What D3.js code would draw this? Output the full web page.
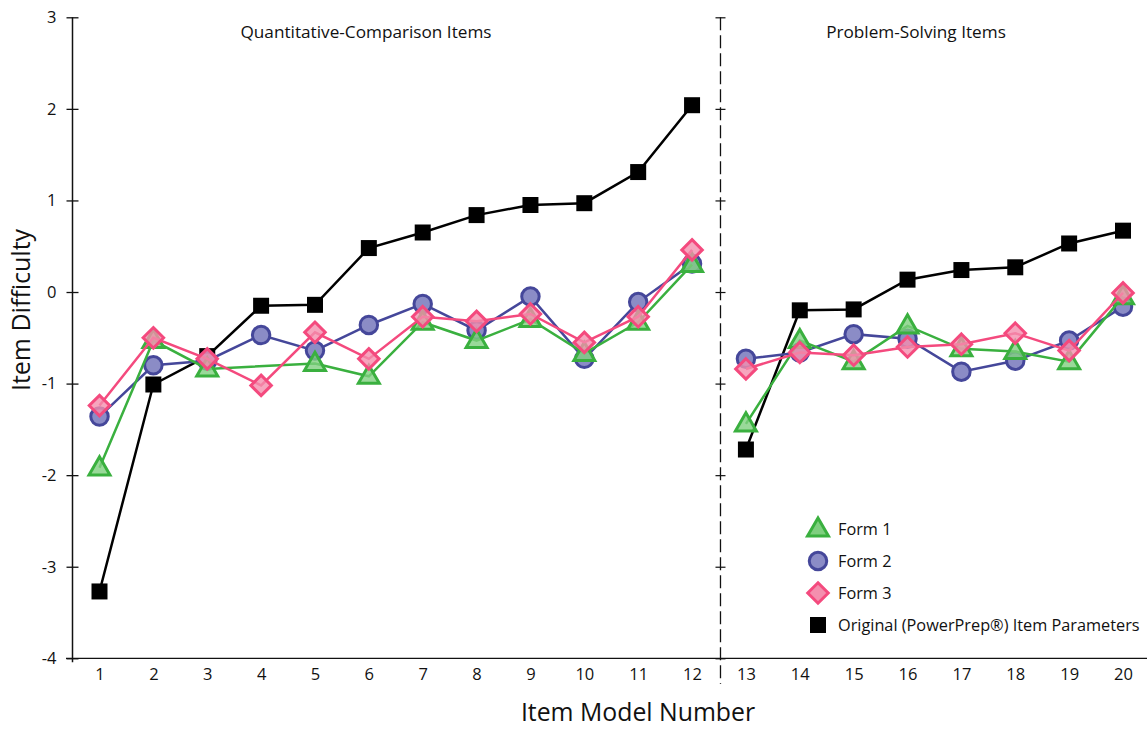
<!DOCTYPE html>
<html><head><meta charset="utf-8">
<script src="https://cdn.jsdelivr.net/npm/d3@7/dist/d3.min.js"></script>
<style>
body{margin:0;background:#fff;}
text{font-family:"Open Sans","Noto Sans",sans-serif;fill:#111;}
</style></head>
<body><svg id="c" width="1147" height="729"></svg>
<script>
const items = d3.range(1, 21);
const yTicks = [-4, -3, -2, -1, 0, 1, 2, 3];
const panelTitles = ["Quantitative-Comparison Items", "Problem-Solving Items"];
const form1 = [-1.92,-0.53,-0.84,null,-0.78,-0.92,-0.33,-0.53,-0.30,-0.67,-0.33,0.30,-1.44,-0.53,-0.76,-0.37,-0.62,-0.65,-0.76,-0.05];
const form2 = [-1.36,-0.80,-0.75,-0.47,-0.64,-0.36,-0.13,-0.42,-0.05,-0.73,-0.11,0.31,-0.73,-0.66,-0.46,-0.51,-0.87,-0.75,-0.53,-0.16];
const form3 = [-1.24,-0.50,-0.73,-1.02,-0.44,-0.73,-0.27,-0.32,-0.24,-0.55,-0.27,0.46,-0.84,-0.66,-0.69,-0.60,-0.57,-0.45,-0.64,-0.01];
const original = [-3.27,-1.01,-0.70,-0.15,-0.14,0.48,0.65,0.84,0.95,0.97,1.31,2.04,-1.72,-0.20,-0.19,0.135,0.24,0.27,0.53,0.67];
const legendLabels = ["Form 1","Form 2","Form 3","Original (PowerPrep\u00AE) Item Parameters"];

const svg = d3.select("#c");
const x = d3.scaleLinear().domain([1, 20]).range([99.5, 1123]);
const y = d3.scaleLinear().domain([-4, 3]).range([658.3, 17.3]);
const xAxisLeft = 72.5;
const divX = x(12.5) + 1.5;

// x axis line
svg.append("line").attr("x1", 66).attr("x2", 1147).attr("y1", y(-4)).attr("y2", y(-4))
  .attr("stroke", "#111").attr("stroke-width", 1.3);

// left y axis
const ga = svg.append("g").attr("transform", `translate(${xAxisLeft},0)`)
  .call(d3.axisLeft(y).tickValues(yTicks).tickSize(6).tickSizeOuter(0).tickFormat(d3.format("d")));
ga.select(".domain").remove();
ga.append("line").attr("y1", y(3)).attr("y2", y(-4) + 4).attr("stroke", "#111").attr("stroke-width", 1.5);
ga.selectAll(".tick line").attr("x1", -6).attr("x2", 6).attr("stroke", "#111").attr("stroke-width", 1.3);
ga.selectAll(".tick text").attr("x", -16).attr("font-size", 16.5).attr("font-family", "Open Sans").attr("fill", "#111")
  .text(d => d < 0 ? "-" + Math.abs(d) : d);

// divider dashed axis
const gd = svg.append("g").attr("transform", `translate(${divX},0)`)
  .call(d3.axisLeft(y).tickValues(yTicks).tickSize(6).tickSizeOuter(0).tickFormat(""));
gd.select(".domain").remove();
gd.append("line").attr("y1", y(3)).attr("y2", 684).attr("stroke", "#111").attr("stroke-width", 1.3)
  .attr("stroke-dasharray", "13,5");
gd.selectAll(".tick line").attr("x1", -5).attr("x2", 5).attr("stroke", "#111").attr("stroke-width", 1.2);

// x tick labels
const gx = svg.append("g").attr("transform", `translate(0,${y(-4)})`)
  .call(d3.axisBottom(x).tickValues(items).tickSize(0).tickPadding(10).tickFormat(d3.format("d")));
gx.select(".domain").remove();
gx.selectAll(".tick text").attr("font-size", 16.5).attr("font-family", "Open Sans").attr("fill", "#111");

// titles
svg.append("text").attr("x", 366).attr("y", 38).attr("text-anchor", "middle").attr("font-size", 17.2).text(panelTitles[0]);
svg.append("text").attr("x", 916).attr("y", 38).attr("text-anchor", "middle").attr("font-size", 17.2).text(panelTitles[1]);
svg.append("text").attr("transform", `translate(30,310) rotate(-90)`).attr("text-anchor", "middle")
  .attr("font-size", 25).text("Item Difficulty");
svg.append("text").attr("x", 638).attr("y", 721).attr("text-anchor", "middle").attr("font-size", 24.8).text("Item Model Number");

const diamond = {draw(ctx, size) { const h = Math.sqrt(size / 2); ctx.moveTo(0, -h); ctx.lineTo(h, 0); ctx.lineTo(0, h); ctx.lineTo(-h, 0); ctx.closePath(); }};
const series = [
  {vals: original, stroke: "#000", fill: "#000", fo: 1, sym: d3.symbolSquare, size: 256, sw: 0, lw: 2.5},
  {vals: form2, stroke: "#45479a", fill: "#8b8cc6", fo: 1, sym: d3.symbolCircle, size: 240, sw: 3, lw: 2.5},
  {vals: form1, stroke: "#3ab03f", fill: "#7fcf7f", fo: 0.8, sym: d3.symbolTriangle, size: 190, sw: 3, lw: 2.5},
  {vals: form3, stroke: "#f44a7e", fill: "#f48fae", fo: 0.8, sym: diamond, size: 210, sw: 3, lw: 2.5}
];
const line = d3.line().x(d => x(d.i)).y(d => y(d.v));
series.forEach(s => {
  const pts = s.vals.map((v, k) => ({i: items[k], v})).filter(d => d.v !== null);
  const segs = [pts.filter(d => d.i <= 12), pts.filter(d => d.i >= 13)];
  segs.forEach(seg => svg.append("path").attr("d", line(seg)).attr("fill", "none")
    .attr("stroke", s.stroke).attr("stroke-width", s.lw));
  svg.append("g").selectAll("path").data(pts).join("path")
    .attr("transform", d => `translate(${x(d.i)},${y(d.v) + (s.sym === d3.symbolTriangle ? 1 : 0)})`)
    .attr("d", d3.symbol(s.sym, s.size))
    .attr("fill", s.fill).attr("fill-opacity", s.fo)
    .attr("stroke", s.sw ? s.stroke : "none").attr("stroke-width", s.sw);
});

// legend
const legSyms = [
  {sym: d3.symbolTriangle, stroke: "#3ab03f", fill: "#7fcf7f", size: 190, sw: 3},
  {sym: d3.symbolCircle, stroke: "#45479a", fill: "#8b8cc6", size: 240, sw: 3},
  {sym: diamond, stroke: "#f44a7e", fill: "#f48fae", size: 210, sw: 3},
  {sym: d3.symbolSquare, stroke: "none", fill: "#000", size: 256, sw: 0}
];
const lg = svg.append("g");
legendLabels.forEach((t, k) => {
  const cy = 529 + k * 32;
  const s = legSyms[k];
  lg.append("path").attr("transform", `translate(818,${cy + (k === 0 ? 1 : 0)})`).attr("d", d3.symbol(s.sym, s.size))
    .attr("fill", s.fill).attr("stroke", s.stroke).attr("stroke-width", s.sw);
  lg.append("text").attr("x", 838).attr("y", cy + 5.5).attr("font-size", 16.3).text(t);
});
</script></body></html>
